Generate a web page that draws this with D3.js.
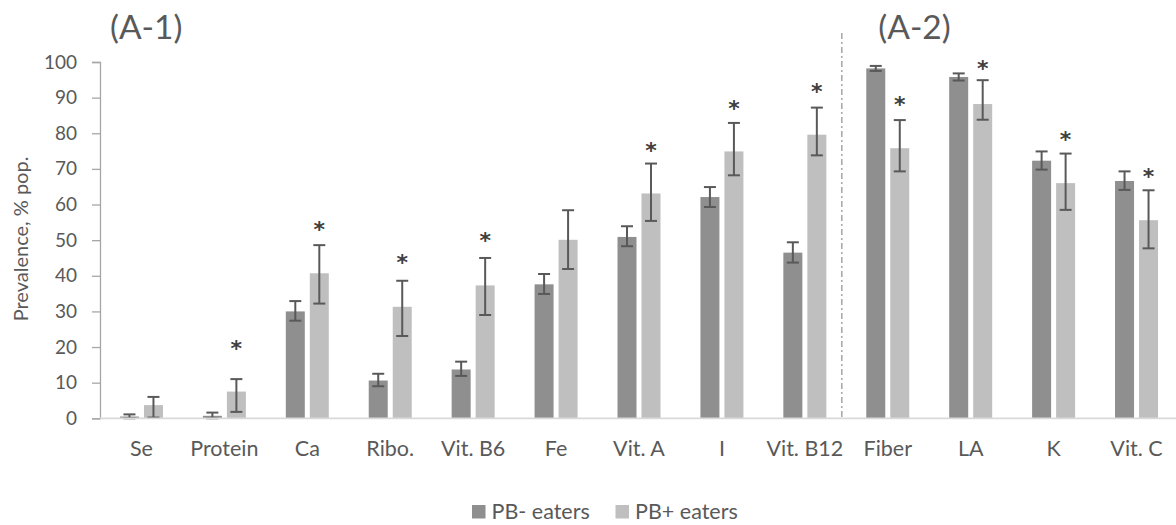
<!DOCTYPE html>
<html>
<head>
<meta charset="utf-8">
<script src="https://cdn.jsdelivr.net/npm/d3@7"></script>
<style>
  html, body { margin: 0; padding: 0; background: #fff; }
  svg { display: block; font-family: Lato, "Open Sans", sans-serif; }
</style>
</head>
<body>
<svg id="chart" width="1176" height="525"></svg>
<script>
// ---- data ----
const categories = ["Se", "Protein", "Ca", "Ribo.", "Vit. B6", "Fe", "Vit. A", "I", "Vit. B12", "Fiber", "LA", "K", "Vit. C"];
const seriesNames = ["PB- eaters", "PB+ eaters"];
const pbMinus    = [0.5, 0.7, 30.0, 10.6, 13.7, 37.6, 50.9, 62.1, 46.5, 98.2, 95.8, 72.3, 66.6];
const pbMinusLow = [0.0, 0.0, 27.4, 9.0, 11.9, 34.9, 48.3, 59.3, 43.7, 97.5, 94.8, 69.8, 64.1];
const pbMinusHigh= [1.1, 1.6, 32.9, 12.5, 15.9, 40.5, 53.9, 64.9, 49.4, 98.9, 96.8, 74.9, 69.3];
const pbPlus     = [3.7, 7.5, 40.7, 31.3, 37.3, 50.1, 63.1, 74.9, 79.6, 75.8, 88.2, 66.0, 55.6];
const pbPlusLow  = [0.2, 1.8, 32.2, 23.1, 29.0, 41.9, 55.4, 68.2, 73.8, 69.3, 83.8, 58.5, 47.7];
const pbPlusHigh = [6.0, 11.0, 48.6, 38.6, 45.0, 58.4, 71.5, 82.9, 87.2, 83.7, 94.9, 74.3, 64.0];
const sigMark    = [null, 21.2, 54.5, 45.3, 51.4, null, 76.6, 88.6, 93.2, 89.5, 99.8, 79.9, 69.4];
const yTicks = [0, 10, 20, 30, 40, 50, 60, 70, 80, 90, 100];
const panelLabels = ["(A-1)", "(A-2)"];
const panelStart = ["Se", "Fiber"];
const yTitle = "Prevalence, % pop.";

// ---- layout ----
const svg = d3.select("#chart");
const colors = ["#8f8f8f", "#bfbfbf"];
const textColor = "#595959";
const plot = { left: 100, right: 1178, top: 62, bottom: 418.3 };

const x = d3.scaleBand().domain(categories).range([plot.left, plot.right]).paddingInner(0).paddingOuter(0);
const y = d3.scaleLinear().domain([0, 100]).range([plot.bottom, plot.top]);
const barW = 19, gap = 5;
const sub = d3.scaleOrdinal().domain([0, 1]).range([-gap / 2 - barW, gap / 2]);

const rows = categories.map((c, i) => ({
  c, i,
  vals: [
    { s: 0, v: pbMinus[i], lo: pbMinusLow[i], hi: pbMinusHigh[i] },
    { s: 1, v: pbPlus[i], lo: pbPlusLow[i], hi: pbPlusHigh[i] }
  ],
  sig: sigMark[i]
}));

// y axis
const yAxis = d3.axisLeft(y).tickValues(yTicks).tickSize(8).tickPadding(15);
const yg = svg.append("g").attr("transform", `translate(${plot.left},0)`).call(yAxis);
yg.select(".domain").attr("stroke", "#a6a6a6").attr("stroke-width", 1.3);
yg.selectAll(".tick line").attr("stroke", "#a6a6a6").attr("stroke-width", 1.3);
yg.selectAll(".tick text").attr("fill", textColor).style("font-size", "19px").style("font-family", "Lato");

// bars
const groups = svg.append("g").selectAll("g").data(rows).join("g")
  .attr("transform", d => `translate(${x(d.c) + x.bandwidth() / 2},0)`);

groups.selectAll("rect").data(d => d.vals).join("rect")
  .attr("x", d => sub(d.s))
  .attr("width", barW)
  .attr("y", d => y(d.v))
  .attr("height", d => y(0) - y(d.v))
  .attr("fill", d => colors[d.s]);

// x axis line
svg.append("line")
  .attr("x1", plot.left).attr("x2", plot.right)
  .attr("y1", y(0)).attr("y2", y(0))
  .attr("stroke", "#d9d9d9").attr("stroke-width", 1.8);

// error bars
const eb = groups.selectAll("g.err").data(d => d.vals).join("g").attr("class", "err")
  .attr("transform", d => `translate(${sub(d.s) + barW / 2},0)`)
  .attr("stroke", "#595959").attr("stroke-width", 2);
eb.append("line").attr("x1", 0).attr("x2", 0).attr("y1", d => y(d.lo)).attr("y2", d => y(d.hi));
eb.append("line").attr("x1", -6).attr("x2", 6).attr("y1", d => y(d.hi)).attr("y2", d => y(d.hi));
eb.append("line").attr("x1", -6).attr("x2", 6).attr("y1", d => y(d.lo)).attr("y2", d => y(d.lo));

// significance asterisks
groups.filter(d => d.sig != null).append("text")
  .attr("x", sub(1) + barW / 2)
  .attr("y", d => y(d.sig) + 13)
  .attr("text-anchor", "middle")
  .attr("fill", "#404040")
  .style("font-size", "22px")
  .style("font-weight", "bold")
  .style("font-family", "DejaVu Sans")
  .text("*");

// category labels
svg.append("g").selectAll("text").data(categories).join("text")
  .attr("x", d => x(d) + x.bandwidth() / 2)
  .attr("y", 456)
  .attr("text-anchor", "middle")
  .attr("fill", textColor)
  .style("font-size", "21.5px")
  .text(d => d);

// divider
const divX = x(panelStart[1]) - 4.5;
svg.append("line")
  .attr("x1", divX).attr("x2", divX)
  .attr("y1", 33).attr("y2", y(0))
  .attr("stroke", "#a6a6a6").attr("stroke-width", 1.5)
  .attr("stroke-dasharray", "6,3,2,3");

// panel labels
svg.append("g").selectAll("text").data(panelLabels).join("text")
  .attr("x", (d, i) => x(panelStart[i]) + (i === 0 ? 10 : 32))
  .attr("y", 39)
  .attr("fill", textColor)
  .style("font-size", "33.5px")
  .text(d => d);

// y title
svg.append("text")
  .attr("transform", `translate(28,${(146 + 332) / 2}) rotate(-90)`)
  .attr("text-anchor", "middle")
  .attr("fill", textColor)
  .style("font-size", "20px")
  .text(yTitle);

// legend
const legend = svg.append("g").selectAll("g").data(seriesNames).join("g")
  .attr("transform", (d, i) => `translate(${[472, 615.5][i]},505)`);
legend.append("rect").attr("width", 13.5).attr("height", 13.5).attr("fill", (d, i) => colors[i]);
legend.append("text").attr("x", 19.5).attr("y", 13.5).attr("fill", textColor)
  .style("font-size", "21.5px").text(d => d);
</script>
</body>
</html>
